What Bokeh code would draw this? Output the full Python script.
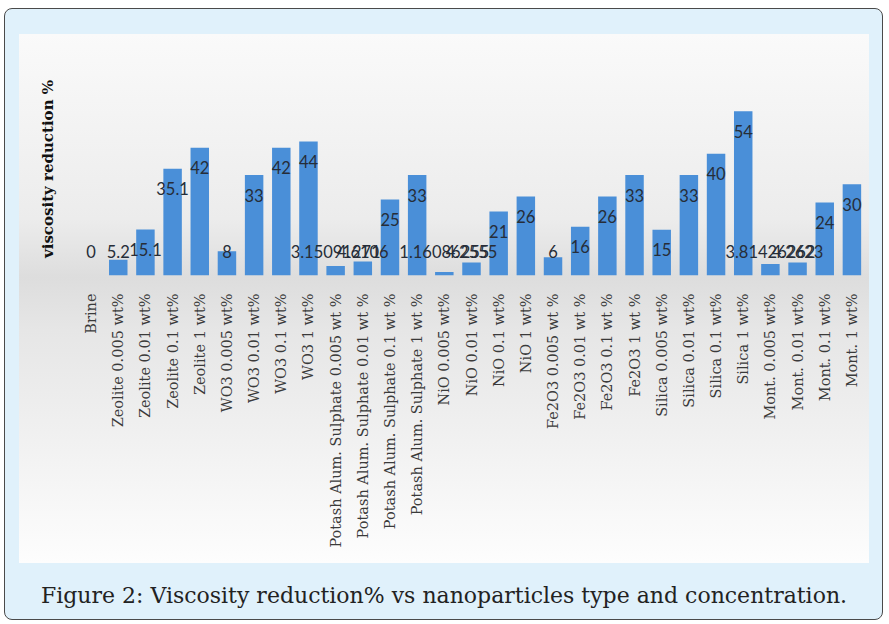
from bokeh.plotting import figure
from bokeh.models import FactorRange, ColumnDataSource, Div, FixedTicker
from bokeh.layouts import column
from bokeh.core.properties import value
from bokeh.embed import file_html
from bokeh.resources import INLINE
import math

categories = [
    "Brine",
    "Zeolite 0.005 wt%", "Zeolite 0.01 wt%", "Zeolite 0.1 wt%", "Zeolite 1 wt%",
    "WO3 0.005 wt%", "WO3 0.01 wt%", "WO3 0.1 wt%", "WO3 1 wt%",
    "Potash Alum. Sulphate 0.005 wt %", "Potash Alum. Sulphate 0.01 wt %",
    "Potash Alum. Sulphate 0.1 wt %", "Potash Alum. Sulphate 1 wt %",
    "NiO 0.005 wt%", "NiO 0.01 wt%", "NiO 0.1 wt%", "NiO 1 wt%",
    "Fe2O3 0.005 wt %", "Fe2O3 0.01 wt %", "Fe2O3 0.1 wt %", "Fe2O3 1 wt %",
    "Silica 0.005 wt%", "Silica 0.01 wt%", "Silica 0.1 wt%", "Silica 1 wt%",
    "Mont. 0.005 wt%", "Mont. 0.01 wt%", "Mont. 0.1 wt%", "Mont. 1 wt%",
]
reduction = [
    0,
    5.2, 15.1, 35.1, 42,
    8, 33, 42, 44,
    3.15091271, 4.6106, 25, 33,
    1.16086255, 4.2555, 21, 26,
    6, 16, 26, 33,
    15, 33, 40, 54,
    3.81426262, 4.2623, 24, 30,
]

y_title = "viscosity reduction %"
caption = "Figure 2: Viscosity reduction% vs nanoparticles type and concentration."

labels = ["%.10g" % v for v in reduction]
label_y = [max(v, 14.6) - 6.6 for v in reduction]

src = ColumnDataSource(dict(x=categories, top=reduction, lab=labels, ly=label_y))

p = figure(
    x_range=FactorRange(factors=categories), y_range=(0, 70),
    width=850, height=529, output_backend="svg", toolbar_location=None,
    min_border_left=58, min_border_right=4, min_border_top=28, min_border_bottom=288,
)
p.background_fill_alpha = 0
p.border_fill_alpha = 0
p.outline_line_color = None
p.styles = {"background": "linear-gradient(to bottom, #fafafa 0%, #ececec 35%, #dddddd 46%, #e6e6e6 56%, #fdfdfd 100%)"}
p.margin = (25, 13, 0, 14)

p.vbar(x="x", top="top", width=0.68, source=src, fill_color="#4a8fd8", line_color=None)
p.text(x="x", y="ly", text="lab", source=src, text_align="center", text_baseline="middle",
       text_font=value("Lato"), text_font_size="16.5px", text_color="#262d38")

p.xgrid.grid_line_color = None
p.ygrid.grid_line_color = None

xa = p.xaxis[0]
xa.major_label_orientation = math.pi / 2
xa.major_label_text_font = "'DejaVu Serif'"
xa.major_label_text_font_size = "14.5px"
xa.major_label_text_color = "#3a3a3a"
xa.major_label_standoff = 12
xa.axis_line_color = None
xa.major_tick_line_color = None
xa.minor_tick_line_color = None

ya = p.yaxis[0]
ya.ticker = FixedTicker(ticks=[])
ya.major_tick_line_color = None
ya.minor_tick_line_color = None
ya.axis_line_color = None
ya.major_label_standoff = 0
ya.axis_label = y_title
ya.axis_label_text_font = "'DejaVu Serif'"
ya.axis_label_text_font_style = "bold"
ya.axis_label_text_font_size = "15px"
ya.axis_label_text_color = "#111111"
ya.axis_label_standoff = 21

cap = Div(text=caption, width=850, margin=(17, 13, 8, 14),
          styles={"text-align": "center", "font-family": "'DejaVu Serif'",
                  "font-size": "22px", "color": "#222222"})

layout = column(p, cap, margin=(8, 4, 4, 4),
                styles={"background-color": "#e0f1fb", "border": "1.5px solid #4a4a4a",
                        "border-radius": "8px"})

open("out.html", "w").write(file_html(layout, INLINE))
